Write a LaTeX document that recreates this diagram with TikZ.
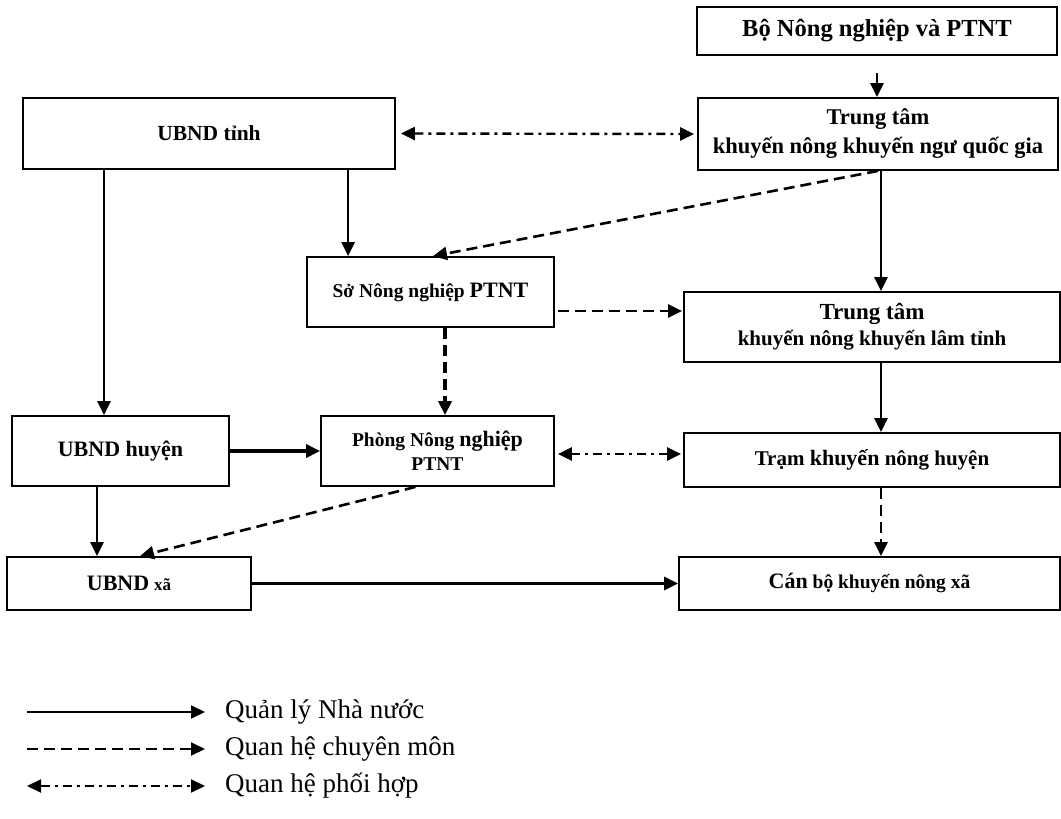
\documentclass[tikz,border=0pt]{standalone}
\usepackage{fontspec}
\setmainfont{Liberation Serif}
\usetikzlibrary{arrows.meta, calc}

\newcommand{\bigpart}[1]{{\fontsize{22}{25}\selectfont #1}}
\newcommand{\smallpart}[1]{{\fontsize{17}{20}\selectfont #1}}

\tikzset{
  box/.style={draw, line width=1.8pt, inner sep=0pt, align=center,
    font=\fontsize{19.5}{24}\selectfont\bfseries},
  tip/.style={-{Triangle[length=14pt,width=13pt]}},
  qlnn/.style={line width=2.4pt, tip},
  chuyenmon/.style={line width=2.6pt, dash pattern=on 11pt off 6pt, tip},
  phoihop/.style={line width=2.4pt, dash pattern=on 9pt off 5pt on 3pt off 5pt,
    {Triangle[length=14pt,width=13pt]}-{Triangle[length=14pt,width=13pt]}},
  legendtext/.style={anchor=west, inner sep=0pt, font=\fontsize{27}{30}\selectfont}
}

\begin{document}
\begin{tikzpicture}[x=1pt, y=-1pt]
  \useasboundingbox (0,0) rectangle (1061,819);

  % cac co quan
  \node[box, minimum width=360pt, minimum height=48pt,
    font=\fontsize{24.5}{28}\selectfont\bfseries] (bo) at (877,31)
    {Bộ Nông nghiệp và PTNT};
  \node[box, minimum width=360pt, minimum height=72pt,
    font=\fontsize{22.5}{29}\selectfont\bfseries] (ttqg) at (878,134)
    {Trung tâm\\khuyến nông khuyến ngư quốc gia};
  \node[box, minimum width=372pt, minimum height=71pt,
    font=\fontsize{21.5}{24}\selectfont\bfseries] (ubndtinh) at (209,133.5)
    {UBND tỉnh};
  \node[box, minimum width=247pt, minimum height=70pt] (so) at (430.5,292)
    {Sở Nông nghiệp \bigpart{PTNT}};
  \node[box, minimum width=376pt, minimum height=70pt,
    font=\fontsize{21}{26}\selectfont\bfseries] (tttinh) at (872,327)
    {\fontsize{23}{26}\selectfont Trung tâm\\khuyến nông khuyến lâm tỉnh};
  \node[box, minimum width=217pt, minimum height=70pt] (ubndhuyen) at (120.5,451)
    {\bigpart{UBND huyện}};
  \node[box, minimum width=233pt, minimum height=70pt] (phong) at (437.5,451)
    {Phòng Nông \bigpart{nghiệp}\\PTNT};
  \node[box, minimum width=376pt, minimum height=54pt,
    font=\fontsize{21}{24}\selectfont\bfseries] (tram) at (872,460)
    {Trạm \bigpart{khuyến} nông huyện};
  \node[box, minimum width=244pt, minimum height=53pt] (ubndxa) at (129,583.5)
    {\bigpart{UBND} \smallpart{xã}};
  \node[box, minimum width=381pt, minimum height=53pt] (canbo) at (869.5,583.5)
    {\bigpart{Cán} bộ khuyến nông xã};

  % diem vao cua mui ten
  \coordinate (soin) at ([xshift=42pt]so.north west);
  \coordinate (huyenin) at ([xshift=-16.5pt]ubndhuyen.north);
  \coordinate (tinhin) at ([xshift=9pt]tttinh.north);

  % quan ly nha nuoc
  \draw[qlnn, shorten <=17pt] (bo.south) -- (bo.south |- ttqg.north);
  \draw[qlnn] (ubndtinh.south -| soin) -- (soin);
  \draw[qlnn] (ubndtinh.south -| huyenin) -- (huyenin);
  \draw[qlnn] (ttqg.south -| tinhin) -- (tinhin);
  \draw[qlnn] (tinhin |- tttinh.south) -- (tinhin |- tram.north);
  \draw[qlnn, line width=3.2pt] (ubndhuyen.east) -- (phong.west);
  \draw[qlnn] ([xshift=-23.5pt]ubndhuyen.south)
    -- ([xshift=-23.5pt]ubndhuyen.south |- ubndxa.north);
  \draw[qlnn, line width=3.2pt] (ubndxa.east) -- (canbo.west);

  % quan he chuyen mon
  \draw[chuyenmon] (ttqg.south) -- ([xshift=2.5pt]so.north);
  \draw[chuyenmon, shorten <=3pt, shorten >=1pt] ([yshift=-19pt]so.east)
    -- ([yshift=-19pt]so.east -| tttinh.west);
  \draw[chuyenmon, line width=3.6pt] ([xshift=14.5pt]so.south)
    -- ([xshift=14.5pt]so.south |- phong.north);
  \draw[chuyenmon] (tinhin |- tram.south) -- (tinhin |- canbo.north);
  \draw[chuyenmon] ([xshift=-22pt]phong.south) -- ([xshift=11pt]ubndxa.north);

  % quan he phoi hop
  \draw[phoihop, shorten <=5pt, shorten >=3pt] (ubndtinh.east) -- (ttqg.west);
  \draw[phoihop, shorten <=3pt, shorten >=2pt] ([yshift=-3pt]phong.east)
    -- ([yshift=-3pt]phong.east -| tram.west);

  % chu thich
  \foreach \y/\st/\txt in {712/qlnn/{Quản lý Nhà nước},
      749/chuyenmon/{Quan hệ chuyên môn}, 786/phoihop/{Quan hệ phối hợp}} {
    \coordinate (from\y) at (27,\y);
    \coordinate (to\y) at (205,\y);
    \draw[\st, line width=2pt] (from\y) -- (to\y);
    \node[legendtext] (leg\y) at (225,\y) {\txt};
  }
\end{tikzpicture}
\end{document}
